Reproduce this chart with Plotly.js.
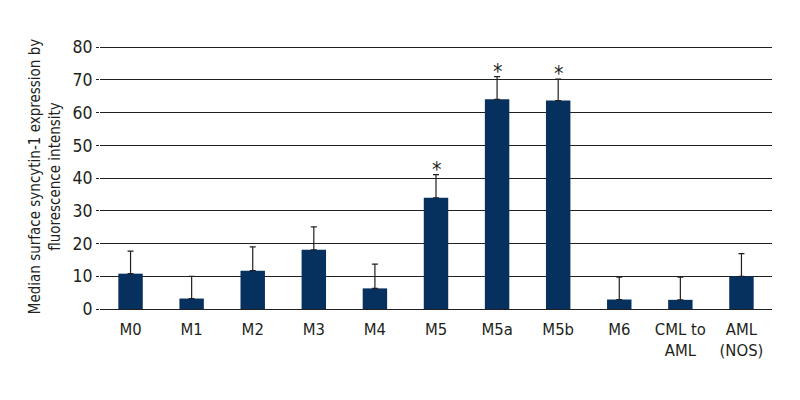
<!DOCTYPE html>
<html>
<head>
<meta charset="utf-8">
<script src="https://cdn.plot.ly/plotly-3.0.1.min.js"></script>
<style>
  body { margin: 0; background: #fff; }
  #chart { width: 800px; height: 400px; }
</style>
</head>
<body>
<div id="chart"></div>
<script>
const categories = ['M0', 'M1', 'M2', 'M3', 'M4', 'M5', 'M5a', 'M5b', 'M6', 'CML to<br>AML', 'AML<br>(NOS)'];
const medians = [10.8, 3.2, 11.7, 18.1, 6.3, 34.0, 64.1, 63.7, 2.9, 2.8, 10.0];
const errUp = [6.9, 6.8, 7.3, 7.0, 7.4, 7.1, 6.9, 6.6, 6.8, 6.9, 6.9];
const significant = [false, false, false, false, false, true, true, true, false, false, false];
const yTicks = [0, 10, 20, 30, 40, 50, 60, 70, 80];

const fontFam = '"DejaVu Sans Condensed", "Liberation Sans Narrow", sans-serif';
const ink = '#231f20';
const navy = '#06305e';

function starNotes() {
  let notes = [];
  categories.forEach((c, i) => {
    if (significant[i]) {
      notes.push({
        x: c,
        y: medians[i] + errUp[i],
        text: '*',
        showarrow: false,
        yanchor: 'bottom',
        yshift: -9,
        font: {family: fontFam, size: 21, color: ink}
      });
    }
  });
  return notes;
}

const bars = {
  type: 'bar',
  x: categories,
  y: medians,
  marker: {color: navy},
  error_y: {
    type: 'data',
    symmetric: false,
    array: errUp,
    arrayminus: medians.map(() => 0),
    color: ink,
    thickness: 1.2,
    width: 3
  },
  showlegend: false
};

const layout = {
  width: 800,
  height: 400,
  margin: {l: 100, r: 28, t: 44, b: 91},
  paper_bgcolor: '#fff',
  plot_bgcolor: '#fff',
  bargap: 0.6,
  font: {family: fontFam, size: 16, color: ink},
  annotations: starNotes(),
  xaxis: {
    type: 'category',
    showgrid: false,
    showline: false,
    ticks: 'outside',
    ticklen: 5,
    tickcolor: 'rgba(0,0,0,0)',
    tickfont: {family: fontFam, size: 16.5, color: ink},
    zeroline: false
  },
  yaxis: {
    range: [0, 81],
    tickvals: yTicks,
    ticks: 'outside',
    ticklen: 3,
    tickcolor: ink,
    tickwidth: 1,
    showgrid: true,
    gridcolor: ink,
    gridwidth: 1,
    zeroline: true,
    zerolinecolor: ink,
    zerolinewidth: 1,
    showline: false,
    tickfont: {family: fontFam, size: 17.5, color: ink},
    title: {
      text: 'Median surface syncytin-1 expression by<br>fluorescence intensity',
      font: {family: fontFam, size: 15, color: ink},
      standoff: 8
    }
  }
};

Plotly.newPlot('chart', [bars], layout, {displayModeBar: false, staticPlot: true});
</script>
</body>
</html>
